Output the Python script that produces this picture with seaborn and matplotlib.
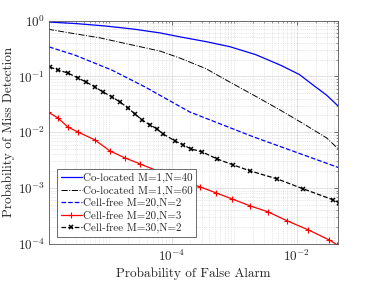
import numpy as np
import matplotlib
matplotlib.use("Agg")
import matplotlib.pyplot as plt
import matplotlib.ticker as mticker
import seaborn as sns

# values (probability of false alarm / miss detection)
pfa_co40 = [1.10e-6, 3.0e-6, 8.5e-6, 2.5e-5, 6.5e-5, 1.35e-4, 3.5e-4, 8.5e-4, 2.2e-3,
            5.4e-3, 0.0110, 0.0182, 0.030, 0.0457]
pmd_co40 = [0.94, 0.88, 0.80, 0.70, 0.60, 0.51, 0.42, 0.34, 0.245, 0.16, 0.108, 0.070,
            0.046, 0.0295]

pfa_co60 = [1.05e-6, 2.8e-6, 7.1e-6, 2.2e-5, 6.5e-5, 1.35e-4, 3.5e-4, 8.5e-4, 2.2e-3,
            5.4e-3, 0.0130, 0.030, 0.048]
pmd_co60 = [0.70, 0.58, 0.49, 0.37, 0.284, 0.213, 0.138, 0.079, 0.044, 0.025, 0.0140,
            0.0079, 0.0048]

pfa_cf20_2 = [1.10e-6, 2.82e-6, 1.10e-5, 3.72e-5, 1.95e-4, 2.0e-3, 0.048]
pmd_cf20_2 = [0.336, 0.241, 0.130, 0.065, 0.023, 0.0083, 0.0023]

pfa_cf20_3 = [1.05e-6, 1.52e-6, 2.19e-6, 3.17e-6, 5.93e-6, 1.03e-5, 1.79e-5, 3.11e-5,
              9.40e-5, 2.84e-4, 5.12e-4, 9.23e-4, 1.79e-3, 3.48e-3, 7.00e-3, 0.0152,
              0.0329, 0.0442]
pmd_cf20_3 = [0.0231, 0.0180, 0.0124, 0.0101, 0.00728, 0.00462, 0.00347, 0.00271,
              0.00165, 0.00105, 0.00082, 0.00064, 0.00048, 0.000375, 0.000259,
              0.000179, 0.000118, 0.0000964]

pfa_cf30_2 = [1.13e-6, 1.52e-6, 2.19e-6, 3.17e-6, 4.26e-6, 5.93e-6, 7.96e-6, 1.11e-5,
              1.49e-5, 2.00e-5, 2.59e-5, 3.35e-5, 4.50e-5, 5.82e-5, 7.26e-5, 1.13e-4,
              1.52e-4, 2.04e-4, 3.05e-4, 5.31e-4, 9.57e-4, 1.79e-3, 4.84e-3, 0.0126,
              0.0381, 0.0475]
pmd_cf30_2 = [0.147, 0.130, 0.115, 0.0935, 0.0794, 0.0646, 0.0526, 0.0429, 0.0348,
              0.0272, 0.0212, 0.0166, 0.0135, 0.0115, 0.00933, 0.00698, 0.00593,
              0.00502, 0.00445, 0.00333, 0.00260, 0.00203, 0.00146, 0.00097,
              0.000615, 0.000543]

labels = ["Co-located M=1,N=40", "Co-located M=1,N=60", "Cell-free M=20,N=2",
          "Cell-free M=20,N=3", "Cell-free M=30,N=2"]

sns.set_style("white")
plt.rcParams["font.family"] = ["cmr10", "DejaVu Serif"]
plt.rcParams["mathtext.fontset"] = "cm"
plt.rcParams["axes.unicode_minus"] = False
plt.rcParams["axes.formatter.use_mathtext"] = True

fig = plt.figure(figsize=(3.75, 2.81), dpi=100)
ax = fig.add_axes([0.131, 0.132, 0.771, 0.795])

sns.lineplot(x=pfa_co40, y=pmd_co40, ax=ax, color="blue", lw=0.9, label=labels[0],
             sort=False)
sns.lineplot(x=pfa_co60, y=pmd_co60, ax=ax, color="black", lw=0.7, linestyle="-.",
             label=labels[1], sort=False)
sns.lineplot(x=pfa_cf20_2, y=pmd_cf20_2, ax=ax, color="blue", lw=0.9, linestyle="--",
             label=labels[2], sort=False)
# seaborn paints marker edges white by default, so give them the line colour
sns.lineplot(x=pfa_cf20_3, y=pmd_cf20_3, ax=ax, color="red", lw=0.9, marker="+",
             markersize=5, mew=0.8, mec="red", label=labels[3], sort=False)
sns.lineplot(x=pfa_cf30_2, y=pmd_cf30_2, ax=ax, color="black", lw=0.9, linestyle="--",
             marker="x", markersize=3, mew=1.1, mec="black", label=labels[4], sort=False)

lines = ax.get_lines()

ax.set_xscale("log")
ax.set_yscale("log")
ax.set_xlim(1.1e-6, 0.046)
ax.set_ylim(1e-4, 1)

ax.xaxis.set_major_locator(mticker.FixedLocator([1e-6, 1e-4, 1e-2]))
ax.xaxis.set_minor_locator(mticker.LogLocator(base=10, subs=np.arange(1, 10), numticks=30))
ax.xaxis.set_minor_formatter(mticker.NullFormatter())
ax.yaxis.set_major_locator(mticker.LogLocator(base=10, numticks=10))
ax.yaxis.set_minor_locator(mticker.LogLocator(base=10, subs=np.arange(2, 10), numticks=30))
ax.yaxis.set_minor_formatter(mticker.NullFormatter())

ax.grid(True, which="major", color="#d8d8d8", lw=0.5, ls="-")
ax.grid(True, which="minor", color="#d0d0d0", lw=0.5, ls=":")
ax.tick_params(which="both", direction="in", top=True, right=True, color="#444444",
               labelsize=9.5, pad=3)
ax.tick_params(which="major", length=3, width=0.5)
ax.tick_params(which="minor", length=1.6, width=0.4)
for sp in ax.spines.values():
    sp.set_color("#555555")
    sp.set_linewidth(0.6)

ax.set_xlabel("Probability of False Alarm", fontsize=9.5, labelpad=3)
ax.set_ylabel("Probability of Miss Detection", fontsize=9.5, labelpad=2)

leg = ax.legend(handles=lines, labels=labels, loc="lower left",
                bbox_to_anchor=(0.02, 0.02), fontsize=7.9,
                handlelength=1.9, handletextpad=0.1, borderpad=0.35, labelspacing=0.22,
                borderaxespad=0.2, fancybox=False, framealpha=1)
leg.get_frame().set_edgecolor("#555555")
leg.get_frame().set_linewidth(0.6)

fig.savefig("out.png", dpi=100)
